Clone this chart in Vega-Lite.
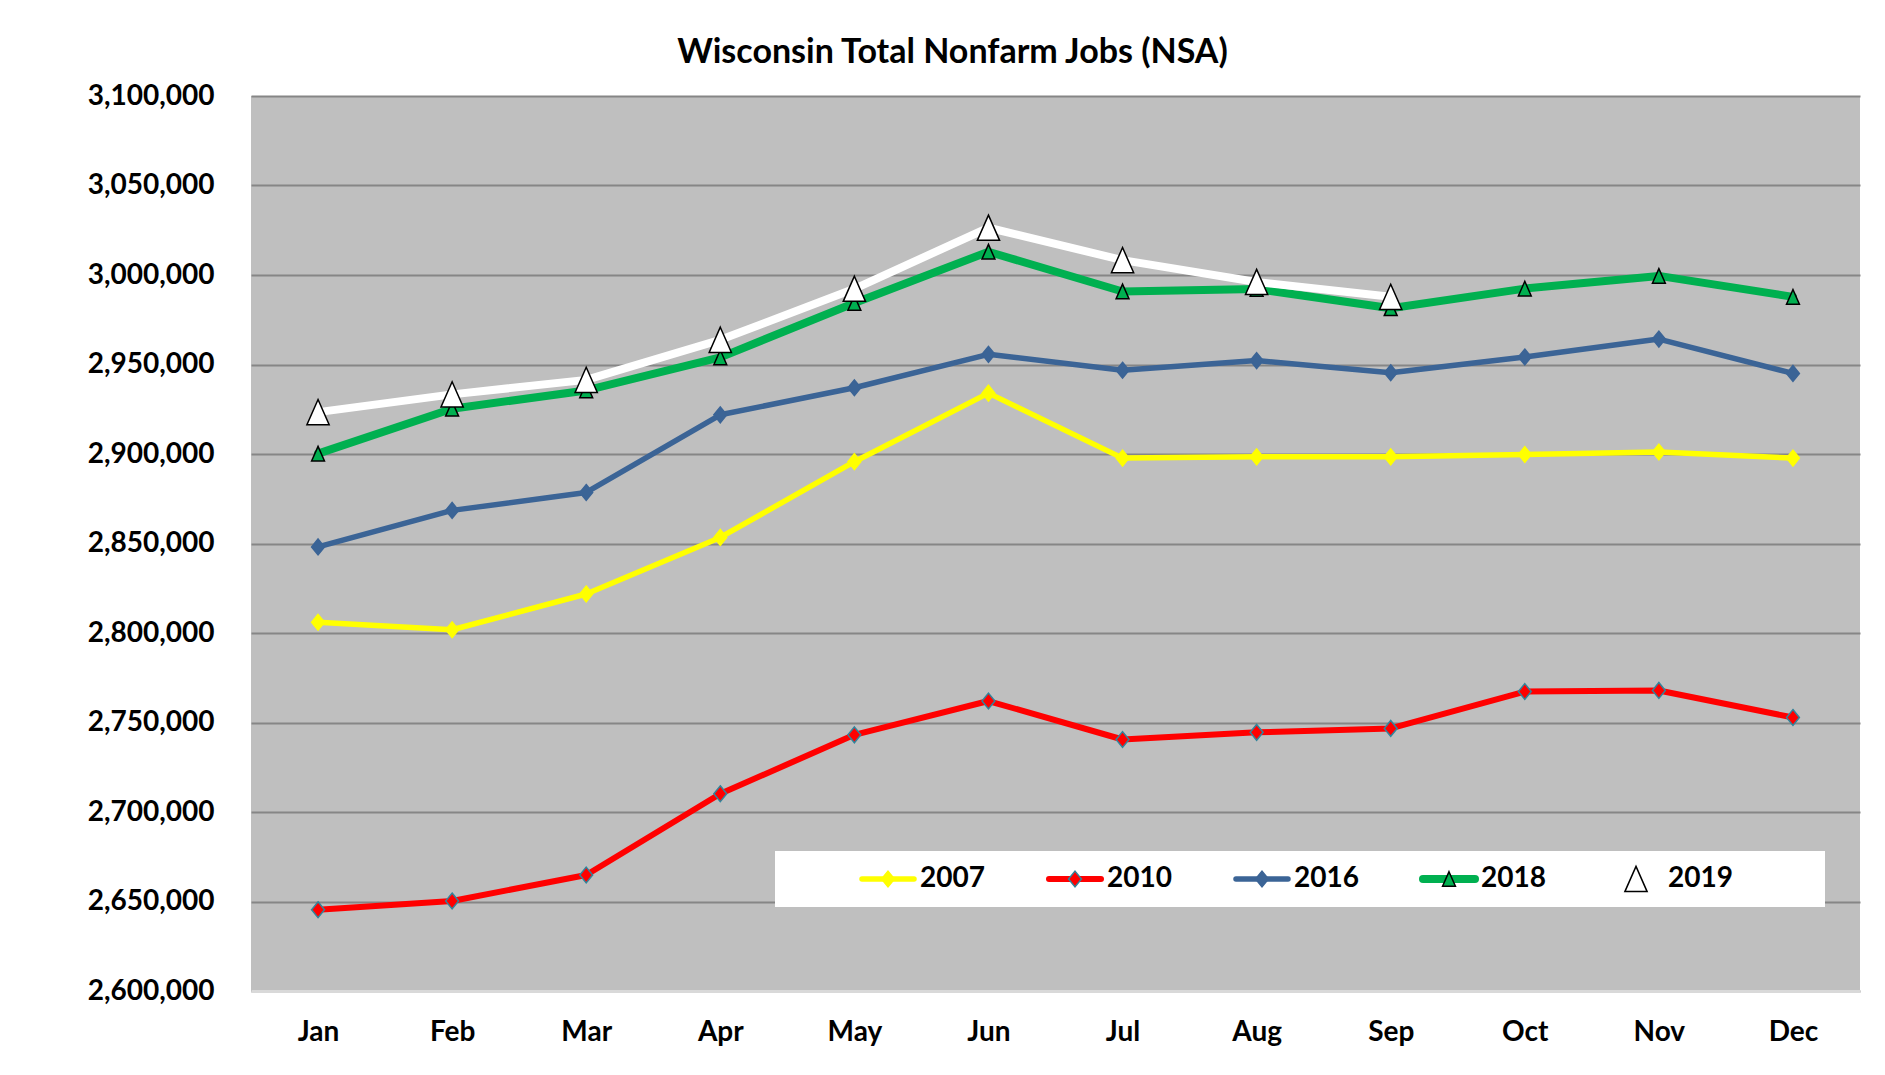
{
  "$schema": "https://vega.github.io/schema/vega-lite/v6.json",
  "width": 1609,
  "height": 895,
  "autosize": {"type": "none"},
  "padding": {"left": 251, "top": 96, "right": 25, "bottom": 84},
  "background": "white",
  "title": {"text": "Wisconsin Total Nonfarm Jobs (NSA)", "font": "Lato", "fontSize": 34, "fontWeight": "bold", "color": "black", "anchor": "middle", "frame": "group", "dx": -103, "dy": 48, "offset": 33, "baseline": "alphabetic"},
  "config": {"view": {"fill": "#BFBFBF", "stroke": null}, "font": "Lato"},
  "data": {"values": [
    {"month": "Jan", "year": "2007", "jobs": 2806000}, {"month": "Feb", "year": "2007", "jobs": 2801800}, {"month": "Mar", "year": "2007", "jobs": 2821800}, {"month": "Apr", "year": "2007", "jobs": 2853400}, {"month": "May", "year": "2007", "jobs": 2895700}, {"month": "Jun", "year": "2007", "jobs": 2934000}, {"month": "Jul", "year": "2007", "jobs": 2897700}, {"month": "Aug", "year": "2007", "jobs": 2898400}, {"month": "Sep", "year": "2007", "jobs": 2898400}, {"month": "Oct", "year": "2007", "jobs": 2899700}, {"month": "Nov", "year": "2007", "jobs": 2901100}, {"month": "Dec", "year": "2007", "jobs": 2897700},
    {"month": "Jan", "year": "2010", "jobs": 2645400}, {"month": "Feb", "year": "2010", "jobs": 2650300}, {"month": "Mar", "year": "2010", "jobs": 2664800}, {"month": "Apr", "year": "2010", "jobs": 2710200}, {"month": "May", "year": "2010", "jobs": 2743100}, {"month": "Jun", "year": "2010", "jobs": 2762000}, {"month": "Jul", "year": "2010", "jobs": 2740500}, {"month": "Aug", "year": "2010", "jobs": 2744500}, {"month": "Sep", "year": "2010", "jobs": 2746700}, {"month": "Oct", "year": "2010", "jobs": 2767300}, {"month": "Nov", "year": "2010", "jobs": 2767900}, {"month": "Dec", "year": "2010", "jobs": 2752800},
    {"month": "Jan", "year": "2016", "jobs": 2848100}, {"month": "Feb", "year": "2016", "jobs": 2868500}, {"month": "Mar", "year": "2016", "jobs": 2878500}, {"month": "Apr", "year": "2016", "jobs": 2921900}, {"month": "May", "year": "2016", "jobs": 2937000}, {"month": "Jun", "year": "2016", "jobs": 2955700}, {"month": "Jul", "year": "2016", "jobs": 2946800}, {"month": "Aug", "year": "2016", "jobs": 2952200}, {"month": "Sep", "year": "2016", "jobs": 2945400}, {"month": "Oct", "year": "2016", "jobs": 2954200}, {"month": "Nov", "year": "2016", "jobs": 2964200}, {"month": "Dec", "year": "2016", "jobs": 2945000},
    {"month": "Jan", "year": "2018", "jobs": 2900200}, {"month": "Feb", "year": "2018", "jobs": 2925300}, {"month": "Mar", "year": "2018", "jobs": 2935500}, {"month": "Apr", "year": "2018", "jobs": 2954000}, {"month": "May", "year": "2018", "jobs": 2984400}, {"month": "Jun", "year": "2018", "jobs": 3013000}, {"month": "Jul", "year": "2018", "jobs": 2990800}, {"month": "Aug", "year": "2018", "jobs": 2992200}, {"month": "Sep", "year": "2018", "jobs": 2981400}, {"month": "Oct", "year": "2018", "jobs": 2992400}, {"month": "Nov", "year": "2018", "jobs": 2999500}, {"month": "Dec", "year": "2018", "jobs": 2987800},
    {"month": "Jan", "year": "2019", "jobs": 2923400}, {"month": "Feb", "year": "2019", "jobs": 2933300}, {"month": "Mar", "year": "2019", "jobs": 2941400}, {"month": "Apr", "year": "2019", "jobs": 2963800}, {"month": "May", "year": "2019", "jobs": 2992300}, {"month": "Jun", "year": "2019", "jobs": 3026400}, {"month": "Jul", "year": "2019", "jobs": 3008300}, {"month": "Aug", "year": "2019", "jobs": 2996100}, {"month": "Sep", "year": "2019", "jobs": 2987800}
  ]},
  "encoding": {
    "x": {
      "field": "month", "type": "nominal",
      "sort": ["Jan", "Feb", "Mar", "Apr", "May", "Jun", "Jul", "Aug", "Sep", "Oct", "Nov", "Dec"],
      "scale": {"type": "point", "padding": 0.5, "domain": ["Jan", "Feb", "Mar", "Apr", "May", "Jun", "Jul", "Aug", "Sep", "Oct", "Nov", "Dec"]},
      "axis": {"title": null, "labelFont": "Lato", "labelFontSize": 28, "labelFontWeight": "bold", "labelColor": "black", "labelPadding": 27, "labelAngle": 0, "ticks": false, "domain": true, "domainColor": "#D9D9D9", "domainWidth": 3, "grid": false, "zindex": 1}
    },
    "y": {
      "field": "jobs", "type": "quantitative",
      "scale": {"domain": [2600000, 3100000], "nice": false, "zero": false},
      "axis": {"title": null, "values": [2600000, 2650000, 2700000, 2750000, 2800000, 2850000, 2900000, 2950000, 3000000, 3050000, 3100000], "format": ",d", "labelFont": "Lato", "labelFontSize": 28, "labelFontWeight": "bold", "labelColor": "black", "labelPadding": 37, "ticks": false, "domain": false, "grid": true, "gridColor": "#868686", "gridWidth": 2}
    }
  },
  "layer": [
    {
      "mark": {"type": "line", "strokeCap": "round", "strokeJoin": "round"},
      "encoding": {
        "color": {
          "field": "year", "type": "nominal",
          "scale": {"domain": ["2007", "2010", "2016", "2018", "2019"], "range": ["#FFFF00", "#FF0000", "#3B6496", "#00B050", "#FFFFFF"]},
          "legend": {"orient": "none", "legendX": 524, "legendY": 755, "direction": "horizontal", "columns": 5, "columnPadding": 60, "clipHeight": 40, "padding": 8, "fillColor": "white", "strokeColor": null, "title": " ", "titleOrient": "left", "titlePadding": 75, "titleFontSize": 28, "titleFont": "Lato", "labelFont": "Lato", "labelFontSize": 28, "labelFontWeight": "bold", "labelColor": "black", "labelOffset": 2, "labelLimit": 400, "labelExpr": "datum.label == '2019' ? '2019\u2800\u2800\u2800\u2800' : datum.label", "symbolSize": 2704, "symbolType": "stroke", "zindex": 0, "encode": {"symbols": {"update": {"strokeCap": {"value": "round"}}}}}
        },
        "strokeWidth": {
          "field": "year", "type": "nominal",
          "scale": {"type": "ordinal", "domain": ["2007", "2010", "2016", "2018", "2019"], "range": [5.5, 6, 5.5, 8, 8]}
        }
      }
    },
    {
      "mark": {"type": "point", "filled": true, "size": 3422.25, "strokeWidth": 1.5, "opacity": 1},
      "encoding": {
        "shape": {
          "field": "year", "type": "nominal",
          "scale": {"range": ["M0,-0.27L0.22,0L0,0.27L-0.22,0Z", "M0,-0.27L0.22,0L0,0.27L-0.22,0Z", "M0,-0.27L0.22,0L0,0.27L-0.22,0Z", "M0,-0.25L0.22,0.25L-0.22,0.25Z", "M0,-0.43L0.38,0.43L-0.38,0.43Z"]},
          "legend": {"orient": "none", "legendX": 599, "legendY": 755, "direction": "horizontal", "columns": 5, "columnPadding": 125, "clipHeight": 40, "padding": 8, "title": null, "labelFont": "Lato", "labelFontSize": 28, "labelFontWeight": "bold", "labelColor": "black", "labelOffset": 2, "labelExpr": "''", "symbolSize": 3422.25, "symbolStrokeWidth": 1.5, "zindex": 1}
        },
        "fill": {
          "field": "year", "type": "nominal",
          "scale": {"range": ["#FFFF00", "#FF0000", "#3B6496", "#00B050", "#FFFFFF"]}
        },
        "stroke": {
          "field": "year", "type": "nominal",
          "scale": {"range": ["#FFFF00", "#31859C", "#3B6496", "#000000", "#000000"]}
        }
      }
    }
  ]
}
